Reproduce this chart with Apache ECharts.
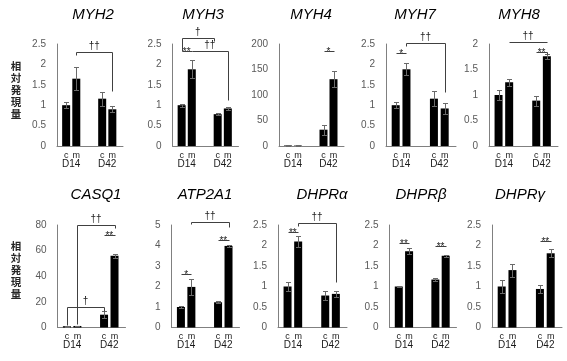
<!DOCTYPE html>
<html><head><meta charset="utf-8">
<script src="https://cdn.jsdelivr.net/npm/echarts@6/dist/echarts.min.js"></script>
<style>html,body{margin:0;padding:0;background:#fff}#c{width:567px;height:361px}</style>
</head><body><div id="c"></div>
<script>
// ---------- data ----------
const genes = ['MYH2','MYH3','MYH4','MYH7','MYH8','CASQ1','ATP2A1','DHPRα','DHPRβ','DHPRγ'];
const barLabels = ['c','m','c','m'];
const dayLabels = ['D14','D42'];
const barX = [0, 1, 3.55, 4.55];      // bar positions on the x value axis
const dayX = [0.5, 4.05];
const yMax = [2.5, 2.5, 200, 2.5, 2, 80, 5, 2.5, 2.5, 2.5];
const yStep = [0.5, 0.5, 50, 0.5, 0.5, 20, 1, 0.5, 0.5, 0.5];
const means = [
  [1.0, 1.65, 1.16, 0.90],
  [1.0, 1.88, 0.78, 0.92],
  [1.0, 0.8, 32, 131],
  [1.0, 1.88, 1.16, 0.92],
  [1.0, 1.25, 0.89, 1.76],
  [1.0, 1.2, 10, 56],
  [1.0, 1.98, 1.23, 3.98],
  [1.0, 2.1, 0.78, 0.82],
  [1.0, 1.86, 1.17, 1.75],
  [1.0, 1.4, 0.94, 1.81]
];
const errs = [
  [0.08, 0.28, 0.17, 0.07],
  [0.04, 0.22, 0.02, 0.04],
  [0.6, 0.4, 10, 16],
  [0.08, 0.15, 0.18, 0.13],
  [0.1, 0.07, 0.1, 0.05],
  [0.3, 0.3, 2.5, 1.5],
  [0.07, 0.38, 0.05, 0.04],
  [0.12, 0.13, 0.11, 0.08],
  [0.02, 0.07, 0.04, 0.03],
  [0.17, 0.16, 0.09, 0.1]
];
// significance brackets: [x from, x to, top value, left end value, right end value, mark]
const brackets = [
  [[1, 4.55, 2.3, 2.22, 1.35, '††']],
  [[0, 3.2, 2.64, 2.33, 2.58, '†'], [0, 1, 2.33, 2.33, 2.33, '**'], [1, 4.55, 2.33, 2.33, 1.12, '††']],
  [[3.55, 4.55, 187, 187, 187, '*']],
  [[0, 1, 2.29, 2.29, 2.29, '*'], [1, 4.55, 2.53, 2.45, 1.33, '††']],
  [[1, 4.55, 2.03, 2.03, 2.03, '††'], [3.55, 4.55, 1.85, 1.85, 1.8, '**']],
  [[1, 4.55, 80, 2.5, 78, '††'], [3.55, 4.55, 72, 72, 72, '**'], [0, 3.55, 16, 2, 13, '†']],
  [[0, 1, 2.62, 2.62, 2.62, '*'], [3.55, 4.55, 4.28, 4.28, 4.28, '**'], [1, 4.55, 5.13, 5.05, 4.9, '††']],
  [[0, 1, 2.34, 2.34, 2.34, '**'], [1, 4.55, 2.54, 2.47, 1.1, '††']],
  [[0, 1, 2.06, 2.06, 2.06, '**'], [3.55, 4.55, 1.98, 1.98, 1.98, '**']],
  [[3.55, 4.55, 2.1, 2.1, 2.1, '**']]
];
const yName = '相対発現量';

// ---------- layout ----------
const panelLeft = [57, 172.5, 279, 386, 489, 57.5, 171.5, 278, 389.5, 492];
const panelWidth = [66, 66, 65, 70, 69, 68, 68, 69, 67, 70];
const rowTop = [44, 225];
const rowH = [102, 102.5];
const titleX = [93, 203, 311, 415, 519, 96, 205, 322, 421, 520];
const titleY = [15, 195];
const FONT = '"Liberation Sans", Arial, sans-serif';

const grid = [], xAxis = [], yAxis = [], series = [];
const crisp = v => Math.round(v) + 0.5;

genes.forEach((g, i) => {
  const row = i < 5 ? 0 : 1;
  grid.push({left: panelLeft[i], top: rowTop[row], width: panelWidth[i], height: rowH[row]});
  xAxis.push({
    gridIndex: i, type: 'value', min: -0.9, max: 5.6,
    axisLine: {show: true, onZero: false, lineStyle: {color: '#808080', width: 1}},
    axisTick: {show: false}, splitLine: {show: false},
    axisLabel: {
      show: true, customValues: barX, margin: 5, fontSize: 9, color: '#1a1a1a', fontFamily: FONT,
      formatter: (v) => { let k = 0; barX.forEach((b, j) => { if (Math.abs(b - v) < Math.abs(barX[k] - v)) k = j; }); return barLabels[k]; }
    }
  });
  xAxis.push({
    gridIndex: i, type: 'value', min: -0.9, max: 5.6, position: 'bottom',
    axisLine: {show: false}, axisTick: {show: false}, splitLine: {show: false},
    axisLabel: {
      show: true, customValues: dayX, margin: 13, fontSize: 10, color: '#1a1a1a', fontFamily: FONT,
      formatter: (v) => Math.abs(v - dayX[0]) < Math.abs(v - dayX[1]) ? dayLabels[0] : dayLabels[1]
    }
  });
  yAxis.push({
    gridIndex: i, type: 'value', min: 0, max: yMax[i], interval: yStep[i],
    axisLine: {show: true, onZero: false, lineStyle: {color: '#808080', width: 1}},
    axisTick: {show: false}, splitLine: {show: false},
    axisLabel: {fontSize: 10, color: '#595959', margin: 11, fontFamily: FONT}
  });
  series.push({
    type: 'bar', xAxisIndex: 2 * i, yAxisIndex: i, barWidth: 8,
    itemStyle: {color: '#000'}, silent: true,
    data: means[i].map((v, j) => [barX[j], v])
  });
  series.push({
    type: 'custom', xAxisIndex: 2 * i, yAxisIndex: i, silent: true, z: 5,
    data: means[i].map((v, j) => [barX[j], v, errs[i][j]]),
    renderItem: (params, api) => {
      const x = api.value(0), v = api.value(1), e = api.value(2);
      const p1 = api.coord([x, v + e]), p2 = api.coord([x, v - e]);
      const cx = crisp(p1[0]), c = 2.5, st = {stroke: '#6a6a6a', lineWidth: 1};
      return {type: 'group', children: [
        {type: 'line', shape: {x1: cx, y1: crisp(p1[1]), x2: cx, y2: crisp(p2[1])}, style: st},
        {type: 'line', shape: {x1: cx - c, y1: crisp(p1[1]), x2: cx + c, y2: crisp(p1[1])}, style: st},
        {type: 'line', shape: {x1: cx - c, y1: crisp(p2[1]), x2: cx + c, y2: crisp(p2[1])}, style: st}
      ]};
    }
  });
  series.push({
    type: 'custom', xAxisIndex: 2 * i, yAxisIndex: i, silent: true, z: 6, clip: false,
    data: brackets[i].map(b => [b[0], b[2]]),
    renderItem: (params, api) => {
      const b = brackets[i][params.dataIndex];
      const a = api.coord([b[0], b[2]]), c = api.coord([b[1], b[2]]);
      const l = api.coord([b[0], b[3]]), r = api.coord([b[1], b[4]]);
      const yT = crisp(a[1]);
      const pts = [[crisp(a[0]), crisp(l[1])], [crisp(a[0]), yT], [crisp(c[0]), yT], [crisp(c[0]), crisp(r[1])]];
      const isStar = b[5].indexOf('*') >= 0;
      return {type: 'group', children: [
        {type: 'polyline', shape: {points: pts}, style: {stroke: '#404040', lineWidth: 1, fill: null}},
        {type: 'text', style: {
          text: b[5], x: (a[0] + c[0]) / 2, y: isStar ? yT + 0.5 : yT - 6,
          align: 'center', verticalAlign: 'middle', fontSize: 10, fontFamily: FONT, fill: '#222'
        }}
      ]};
    }
  });
});

const graphic = [];
genes.forEach((g, i) => {
  const row = i < 5 ? 0 : 1;
  graphic.push({type: 'text', x: titleX[i], y: titleY[row], style: {
    text: g, fontSize: 15, fontStyle: 'italic', fontFamily: FONT, fill: '#000',
    align: 'center', verticalAlign: 'middle'}});
});
// vertical y-axis title: one character per step, stacked
[90, 270].forEach(cy => {
  const chars = yName.split('');
  chars.forEach((ch, k) => {
    graphic.push({type: 'text', x: 16, y: cy + (k - (chars.length - 1) / 2) * 11.8, style: {
      text: ch, fontSize: 10.5, fontWeight: 'bold',
      fontFamily: '"Noto Sans CJK JP", sans-serif', fill: '#262626', align: 'center', verticalAlign: 'middle'}});
  });
});

const chart = echarts.init(document.getElementById('c'), null, {renderer: 'canvas'});
chart.setOption({animation: false, backgroundColor: '#fff', grid, xAxis, yAxis, series, graphic});
</script>
</body></html>
